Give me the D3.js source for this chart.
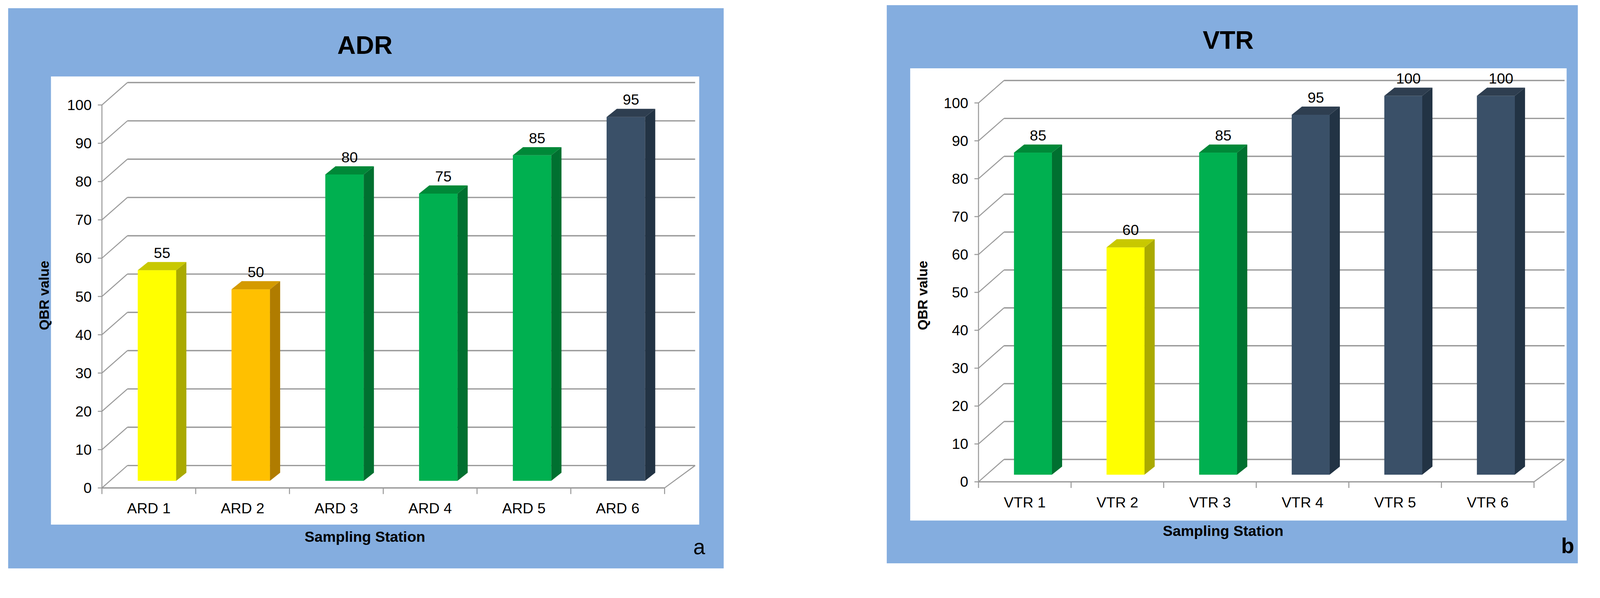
<!DOCTYPE html>
<html><head><meta charset="utf-8">
<script src="https://cdn.jsdelivr.net/npm/d3@7"></script>
<style>body{margin:0;background:#fff}svg{display:block}</style>
</head><body>
<svg id="c" width="4248" height="1532" viewBox="0 0 1628 587"></svg>
<script>
const adrCategories = ["ARD 1","ARD 2","ARD 3","ARD 4","ARD 5","ARD 6"];
const adrValues = [55,50,80,75,85,95];
const adrColors = ["yellow","orange","green","green","green","navy"];
const vtrCategories = ["VTR 1","VTR 2","VTR 3","VTR 4","VTR 5","VTR 6"];
const vtrValues = [85,60,85,95,100,100];
const vtrColors = ["green","yellow","green","navy","navy","navy"];
const yTicks = [0,10,20,30,40,50,60,70,80,90,100];

const palette = {
  yellow:{front:"#FFFF00",side:"#AAAA00",top:"#C8C800"},
  orange:{front:"#FFC000",side:"#B07C00",top:"#D49A00"},
  green:{front:"#00B050",side:"#007030",top:"#008838"},
  navy:{front:"#3A5068",side:"#223344",top:"#2E3E50"}
};
const svg = d3.select("#c");
const FONT = "'Liberation Sans Narrow','Liberation Sans',Arial,sans-serif";

function panel(o){
  const g = svg.append("g");
  g.append("rect").attr("x",o.bg[0]).attr("y",o.bg[1]).attr("width",o.bg[2]).attr("height",o.bg[3]).attr("fill","#84ADDF");
  g.append("rect").attr("x",o.wh[0]).attr("y",o.wh[1]).attr("width",o.wh[2]).attr("height",o.wh[3]).attr("fill","#fff");
  g.append("text").attr("x",o.titleX).attr("y",o.titleY).attr("text-anchor","middle")
    .attr("font-family",FONT).attr("font-weight","bold").attr("font-size",25).text(o.title);
  const y = d3.scaleLinear().domain([0,100]).range([o.y0,o.y100]);
  const x = d3.scaleBand().domain(o.cats).range([o.xL,o.xR]);
  const DX=25, DY=-22;
  const grid="#9a9a9a";
  yTicks.forEach(t=>{
    const yy=y(t);
    g.append("line").attr("x1",o.xL).attr("y1",yy).attr("x2",o.xL+DX).attr("y2",yy+DY).attr("stroke",grid).attr("stroke-width",1);
    g.append("line").attr("x1",o.xL+DX).attr("y1",yy+DY).attr("x2",o.xR+DX+5).attr("y2",yy+DY).attr("stroke",grid).attr("stroke-width",1.3);
    g.append("line").attr("x1",o.xL-4).attr("y1",yy).attr("x2",o.xL).attr("y2",yy).attr("stroke",grid);
    g.append("text").attr("x",o.xL-10).attr("y",yy+5).attr("text-anchor","end")
      .attr("font-family",FONT).attr("font-size",14.5).text(t);
  });
  g.append("line").attr("x1",o.xL).attr("y1",y(0)).attr("x2",o.xR).attr("y2",y(0)).attr("stroke",grid).attr("stroke-width",1.3);
  g.append("line").attr("x1",o.xR).attr("y1",y(0)).attr("x2",o.xR+DX+5).attr("y2",y(0)+DY).attr("stroke",grid);
  g.append("line").attr("x1",o.xL).attr("y1",y(0)).attr("x2",o.xL).attr("y2",y(100)).attr("stroke",grid);
  [...o.cats.map(c=>x(c)),o.xR].forEach(v=>{
    g.append("line").attr("x1",v).attr("y1",y(0)).attr("x2",v).attr("y2",y(0)+6).attr("stroke",grid);
  });
  o.cats.forEach((c,i)=>{
    g.append("text").attr("x",x(c)+x.bandwidth()/2).attr("y",y(0)+25).attr("text-anchor","middle")
      .attr("font-family",FONT).attr("font-size",14.5).text(c);
  });
  const bw = x.bandwidth()*0.41, sd=10, sh=8, ox=8, oy=-7;
  o.cats.forEach((c,i)=>{
    const col=palette[o.colors[i]];
    const x0=x(c)+(x.bandwidth()-bw)/2+ox, yb=y(0)+oy, yt=y(o.vals[i])+oy;
    g.append("rect").attr("x",x0).attr("y",yt).attr("width",bw).attr("height",yb-yt).attr("fill",col.front);
    g.append("path").attr("d",`M${x0+bw},${yt}L${x0+bw+sd},${yt-sh}L${x0+bw+sd},${yb-sh}L${x0+bw},${yb}Z`).attr("fill",col.side);
    g.append("path").attr("d",`M${x0},${yt}L${x0+sd},${yt-sh}L${x0+bw+sd},${yt-sh}L${x0+bw},${yt}Z`).attr("fill",col.top);
    g.append("text").attr("x",x0+bw/2+sd/2).attr("y",yt-sh-4).attr("text-anchor","middle")
      .attr("font-family",FONT).attr("font-size",14.5).text(o.vals[i]);
  });
  g.append("text").attr("transform",`translate(${o.ylabX},${o.ylabY}) rotate(-90)`).attr("text-anchor","middle")
    .attr("font-family",FONT).attr("font-weight","bold").attr("font-size",13.5).text("QBR value");
  g.append("text").attr("x",o.xlabX).attr("y",o.xlabY).attr("text-anchor","middle")
    .attr("font-family",FONT).attr("font-weight","bold").attr("font-size",14.5).text("Sampling Station");
  g.append("text").attr("x",o.letX).attr("y",o.letY).attr("text-anchor","middle")
    .attr("font-family",FONT).attr("font-weight",o.letW).attr("font-size",21).text(o.letter);
}
panel({bg:[8,8,702,550],wh:[50,75,636,440],title:"ADR",titleX:358,titleY:53,
  cats:adrCategories,vals:adrValues,colors:adrColors,y0:479,y100:103,xL:100,xR:652,
  ylabX:48,ylabY:290,xlabX:358,xlabY:532,letter:"a",letX:686,letY:544,letW:"normal"});
panel({bg:[870,5,678,548],wh:[893,67,644,444],title:"VTR",titleX:1205,titleY:48,
  cats:vtrCategories,vals:vtrValues,colors:vtrColors,y0:473,y100:101,xL:960,xR:1505,
  ylabX:910,ylabY:290,xlabX:1200,xlabY:526,letter:"b",letX:1538,letY:543,letW:"bold"});
</script>
</body></html>
